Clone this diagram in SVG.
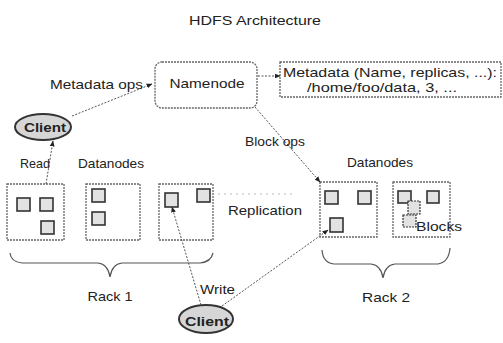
<svg xmlns="http://www.w3.org/2000/svg" width="503" height="343" viewBox="0 0 503 343">
<style>
text{font-family:"Liberation Sans",Arial,sans-serif;font-size:13px;fill:#222}
.box{fill:#fff;stroke:#666;stroke-width:1.3;stroke-dasharray:2 1}
.blk{fill:#e2e2e2;stroke:#333;stroke-width:1.6}
.cli{fill:#d6d6d6;stroke:#333;stroke-width:2}
.ln{fill:none;stroke:#555;stroke-width:1;stroke-dasharray:2 1.5}
.br{fill:none;stroke:#555;stroke-width:1.2}
</style>
<defs>
<marker id="ah" viewBox="0 0 10 10" refX="9" refY="5" markerWidth="6" markerHeight="6" orient="auto">
<path d="M0,1 L10,5 L0,9 z" fill="#222"/>
</marker>
</defs>
<text x="255" y="25" text-anchor="middle" textLength="132" lengthAdjust="spacingAndGlyphs">HDFS Architecture</text>
<g id="namenode">
<rect class="box" x="155" y="62" width="102" height="46" rx="7"/>
<text x="207" y="88" text-anchor="middle" textLength="75" lengthAdjust="spacingAndGlyphs">Namenode</text>
</g>
<g id="metadata">
<rect class="box" x="280" y="62" width="221" height="35"/>
<text x="390" y="77" text-anchor="middle" textLength="214" lengthAdjust="spacingAndGlyphs">Metadata (Name, replicas, ...):</text>
<text x="382" y="92" text-anchor="middle" textLength="150" lengthAdjust="spacingAndGlyphs">/home/foo/data, 3, ...</text>
</g>
<g id="client-read">
<ellipse class="cli" cx="43" cy="127" rx="28" ry="13"/>
<text x="45" y="132" text-anchor="middle" font-weight="bold" textLength="42" lengthAdjust="spacingAndGlyphs">Client</text>
</g>
<g id="client-write">
<ellipse class="cli" cx="206" cy="319" rx="27" ry="14"/>
<text x="207" y="326" text-anchor="middle" font-weight="bold" textLength="44" lengthAdjust="spacingAndGlyphs">Client</text>
</g>
<g id="rack1">
<text x="78" y="168" textLength="66" lengthAdjust="spacingAndGlyphs">Datanodes</text>
<g id="r1-dn1">
<rect class="box" x="7" y="184" width="57" height="56"/>
<rect class="blk" x="17" y="198" width="13" height="13"/>
<rect class="blk" x="40" y="198" width="13" height="13"/>
<rect class="blk" x="41" y="221" width="13" height="13"/>
</g>
<g id="r1-dn2">
<rect class="box" x="86" y="184" width="54" height="56"/>
<rect class="blk" x="92" y="189" width="13" height="13"/>
<rect class="blk" x="92" y="212" width="13" height="13"/>
</g>
<g id="r1-dn3">
<rect class="box" x="159" y="184" width="54" height="56"/>
<rect class="blk" x="165" y="193" width="13" height="14"/>
<rect class="blk" x="197" y="189" width="13" height="13"/>
</g>
<path class="br" d="M10,253 Q11,262 22,263 L98,263 Q108,264 110,277 Q112,264 122,263 L200,263 Q211,262 213,253"/>
<text x="110" y="301" text-anchor="middle" textLength="45" lengthAdjust="spacingAndGlyphs">Rack 1</text>
</g>
<g id="rack2">
<text x="380" y="167" text-anchor="middle" textLength="66" lengthAdjust="spacingAndGlyphs">Datanodes</text>
<g id="r2-dn1">
<rect class="box" x="320" y="182" width="57" height="55"/>
<rect class="blk" x="325" y="191" width="13" height="13"/>
<rect class="blk" x="358" y="191" width="13" height="13"/>
<rect class="blk" x="330" y="218" width="13" height="14"/>
</g>
<g id="r2-dn2">
<rect class="box" x="393" y="182" width="57" height="55"/>
<rect class="blk" x="398" y="191" width="13" height="12"/>
<rect class="blk" x="427" y="191" width="12" height="12"/>
<rect class="blk" x="408" y="201" width="12" height="13" style="stroke-dasharray:2 1;stroke-width:1.2"/>
<rect class="blk" x="403" y="215" width="13" height="12" style="stroke-dasharray:2 1;stroke-width:1.2"/>
<text x="416" y="231" textLength="46" lengthAdjust="spacingAndGlyphs">Blocks</text>
</g>
<path class="br" d="M322,250 Q323,263 334,264 L371,264 Q381,265 383,278 Q385,265 395,264 L438,264 Q449,262 450,248"/>
<text x="386" y="302" text-anchor="middle" textLength="48" lengthAdjust="spacingAndGlyphs">Rack 2</text>
</g>
<g id="connectors">
<line class="ln" x1="72" y1="116" x2="152" y2="84" marker-end="url(#ah)"/>
<line class="ln" x1="46" y1="184" x2="53" y2="141" marker-end="url(#ah)"/>
<line class="ln" x1="258" y1="76" x2="280" y2="76" marker-end="url(#ah)"/>
<line class="ln" x1="255" y1="107" x2="320" y2="182" marker-end="url(#ah)"/>
<line class="ln" x1="201" y1="305" x2="172" y2="207" marker-end="url(#ah)"/>
<line class="ln" x1="222" y1="306" x2="328" y2="230" marker-end="url(#ah)"/>
<line x1="218" y1="194" x2="293" y2="194" style="stroke:#bbb;stroke-width:1;stroke-dasharray:2 4"/>
<text x="50" y="89" textLength="93" lengthAdjust="spacingAndGlyphs">Metadata ops</text>
<text x="245" y="146" textLength="60" lengthAdjust="spacingAndGlyphs">Block ops</text>
<text x="20" y="168" textLength="30" lengthAdjust="spacingAndGlyphs">Read</text>
<text x="228" y="215" textLength="74" lengthAdjust="spacingAndGlyphs">Replication</text>
<text x="200" y="294" textLength="35" lengthAdjust="spacingAndGlyphs">Write</text>
</g>
</svg>
